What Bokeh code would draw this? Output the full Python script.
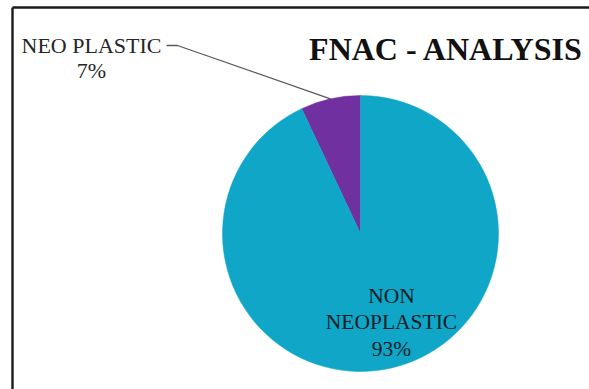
import math
from bokeh.plotting import figure
from bokeh.models import Range1d, ColumnDataSource
from bokeh.core.properties import value
from bokeh.embed import file_html
from bokeh.resources import INLINE

# ---- data ----
categories = ["NEO PLASTIC", "NON NEOPLASTIC"]
percent = [7, 93]
colors = ["#7030a0", "#10a6c8"]
title_text = "FNAC - ANALYSIS"

W, H = 589, 389
FONT = "Liberation Serif"

def Y(py):
    return H - py

p = figure(width=W, height=H, output_backend="svg", toolbar_location=None,
           x_range=Range1d(0, W), y_range=Range1d(0, H), min_border=0)
p.axis.visible = False
p.grid.visible = False
p.outline_line_color = None
p.background_fill_color = "white"
p.border_fill_color = "white"

# frame border (left and top)
p.segment(x0=[12, 12], y0=[Y(7), Y(7)], x1=[12, W], y1=[0, Y(7)],
          line_color="#1a1a1a", line_width=2.4)

# pie
cx, cy, r = 360, Y(233), 138
total = sum(percent)
starts, ends = [], []
acc = 0.0
for v in percent:
    a0 = math.pi / 2 + 2 * math.pi * acc / total
    acc += v
    a1 = math.pi / 2 + 2 * math.pi * acc / total
    starts.append(a0)
    ends.append(a1)

src = ColumnDataSource(dict(start=starts, end=ends, color=colors))
p.wedge(x=cx, y=cy, radius=r, start_angle="start", end_angle="end",
        direction="anticlock", fill_color="color", line_color="color",
        line_width=0.5, source=src)

# leader line for the small slice
mid = (starts[0] + ends[0]) / 2
ex, ey = cx + r * math.cos(mid), cy + r * math.sin(mid)
p.line(x=[166, 177, ex], y=[Y(45), Y(45), ey], line_color="#595959", line_width=1.3)

# labels
lab0 = [categories[0], f"{percent[0]}%"]
p.text(x=[91] * 2, y=[Y(45), Y(70)], text=lab0, text_align="center",
       text_baseline="alphabetic", text_font=value(FONT), text_font_size="22px",
       text_color="#262626")

lab1 = categories[1].split(" ") + [f"{percent[1]}%"]
p.text(x=[391] * 3, y=[Y(295), Y(321.5), Y(348)], text=lab1, text_align="center",
       text_baseline="alphabetic", text_font=value(FONT), text_font_size="21.5px",
       text_color="#0d1e26")

# title
p.text(x=[583], y=[Y(48)], text=[title_text], text_align="right",
       text_baseline="alphabetic", text_font=value(FONT), text_font_size="32px",
       text_font_style="bold", text_color="#111111")

open("out.html", "w").write(file_html(p, INLINE))
